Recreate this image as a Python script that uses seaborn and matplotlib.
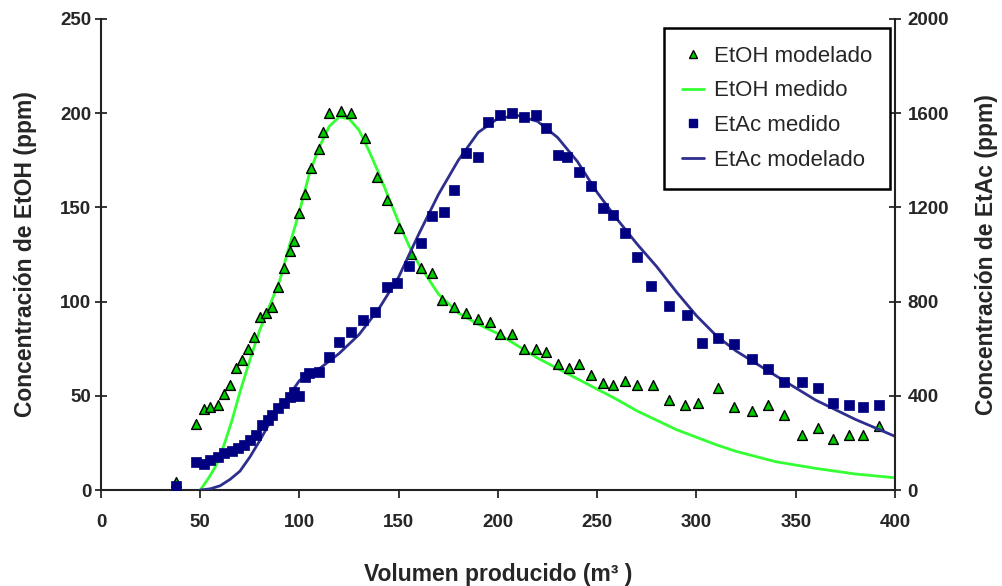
import matplotlib
matplotlib.use("Agg")
import matplotlib.pyplot as plt
import seaborn as sns
import pandas as pd
from matplotlib.lines import Line2D

# ---- data ----
etoh_pts_x = [38, 48, 52, 55, 59, 62, 65, 68, 71, 74, 77, 80, 83, 86, 89, 92, 95, 97, 100, 103,
              106, 110, 112, 115, 121, 126, 133, 139, 144, 150, 156, 161, 167, 172, 178, 184, 190,
              196, 201, 207, 213, 219, 224, 230, 236, 241, 247, 253, 258, 264, 270, 278, 286, 294,
              301, 311, 319, 328, 336, 344, 353, 361, 369, 377, 384, 392]
etoh_pts_y = [4, 35, 43, 44, 45, 51, 56, 65, 69, 75, 81, 92, 94, 97, 108, 118, 127, 132, 147, 157,
              171, 181, 190, 200, 201, 200, 187, 166, 154, 139, 125, 118, 115, 101, 97, 94, 91,
              89, 83, 83, 75, 75, 73, 67, 65, 67, 61, 57, 56, 58, 56, 56, 48, 45,
              46, 54, 44, 42, 45, 40, 29, 33, 27, 29, 29, 34]

etoh_line_x = [50, 54, 58, 62, 66, 70, 75, 80, 85, 90, 95, 100, 105, 110, 115, 120, 125, 130, 135,
               140, 145, 150, 155, 160, 170, 180, 190, 200, 220, 240, 260, 270, 280, 290, 300, 310,
               320, 340, 360, 380, 400]
etoh_line_y = [0, 6, 13, 24, 37, 52, 69, 85, 98, 111, 130, 148, 168, 182, 193, 198, 197, 191, 180,
               168, 155, 142, 130, 120, 104, 94, 88, 83, 70, 59, 48, 42, 37, 32, 28, 24,
               20.5, 15, 11.5, 8.5, 6.5]

etac_pts_x = [38, 48, 52, 55, 59, 62, 66, 69, 72, 75, 78, 81, 84, 86, 89, 92, 95, 97, 100, 103,
              105, 110, 115, 120, 126, 132, 138, 144, 149, 155, 161, 167, 173, 178, 184, 190, 195,
              201, 207, 213, 219, 224, 230, 235, 241, 247, 253, 258, 264, 270, 277, 286, 295, 303,
              311, 319, 328, 336, 344, 353, 361, 369, 377, 384, 392]
etac_pts_y = [15, 120, 110, 127, 141, 156, 167, 177, 191, 212, 234, 276, 297, 318, 347, 368, 396,
              417, 400, 480, 495, 502, 566, 630, 672, 722, 757, 863, 880, 950, 1048, 1163, 1180,
              1274, 1433, 1412, 1564, 1592, 1599, 1582, 1592, 1538, 1422, 1412, 1352, 1289, 1198,
              1168, 1093, 990, 866, 780, 743, 624, 644, 620, 555, 512, 460, 460, 432, 368, 361,
              351, 361]

etac_line_x = [50, 55, 60, 65, 70, 75, 80, 85, 90, 95, 100, 110, 120, 130, 140, 150, 160, 170, 180,
               190, 200, 210, 220, 230, 240, 250, 260, 270, 280, 290, 300, 310, 320, 340, 360, 380,
               400]
etac_line_y = [0, 5, 18, 45, 80, 140, 210, 285, 345, 405, 465, 515, 580, 660, 770, 905, 1085, 1255,
               1400, 1518, 1578, 1590, 1565, 1497, 1395, 1263, 1150, 1045, 948, 840, 740, 655, 590,
               485, 382, 300, 228]

x_ticks = [0, 50, 100, 150, 200, 250, 300, 350, 400]
y_left_ticks = [0, 50, 100, 150, 200, 250]
y_right_ticks = [0, 400, 800, 1200, 1600, 2000]

labels = ["EtOH modelado", "EtOH medido", "EtAc medido", "EtAc modelado"]

# ---- style ----
sns.set_style("ticks")
plt.rcParams["font.family"] = ["Liberation Sans", "DejaVu Sans"]

GREEN_FILL = "#00cc00"
GREEN_LINE = "#33ff33"
NAVY = "#000080"
BLUE_LINE = "#2e2e8f"

fig = plt.figure(figsize=(10.03, 5.86), dpi=100)
ax = fig.add_axes([0.1007, 0.1638, 0.7916, 0.8038])
ax2 = ax.twinx()

df_etoh_pts = pd.DataFrame({"x": etoh_pts_x, "y": etoh_pts_y})
df_etoh_line = pd.DataFrame({"x": etoh_line_x, "y": etoh_line_y})
df_etac_pts = pd.DataFrame({"x": etac_pts_x, "y": etac_pts_y})
df_etac_line = pd.DataFrame({"x": etac_line_x, "y": etac_line_y})

sns.lineplot(data=df_etoh_line, x="x", y="y", ax=ax, color=GREEN_LINE, linewidth=2.0,
             sort=True, estimator=None, zorder=2)
sns.scatterplot(data=df_etoh_pts, x="x", y="y", ax=ax, marker="^", s=50, color=GREEN_FILL,
                edgecolor="black", linewidth=1.0, zorder=3)

sns.lineplot(data=df_etac_line, x="x", y="y", ax=ax2, color=BLUE_LINE, linewidth=2.0,
             sort=True, estimator=None, zorder=2)
sns.scatterplot(data=df_etac_pts, x="x", y="y", ax=ax2, marker="s", s=50, color=NAVY,
                edgecolor=NAVY, linewidth=0.5, zorder=3)

ax.set_xlim(0, 400)
ax.set_ylim(0, 250)
ax2.set_ylim(0, 2000)
ax.set_xticks(x_ticks)
ax.set_yticks(y_left_ticks)
ax2.set_yticks(y_right_ticks)

for a in (ax, ax2):
    a.spines["top"].set_visible(False)
    for s in a.spines.values():
        s.set_linewidth(1.5)
        s.set_color("#222222")
ax.spines["right"].set_visible(False)
ax2.spines["left"].set_visible(False)
ax2.spines["bottom"].set_visible(False)

TICK_FS = 13.5
ax.tick_params(axis="x", direction="out", length=6, width=1.3, pad=11, labelsize=TICK_FS)
ax.tick_params(axis="y", direction="inout", length=8, width=1.3, pad=3, labelsize=TICK_FS)
ax2.tick_params(axis="y", direction="inout", length=8, width=1.3, pad=5, labelsize=TICK_FS)
for lab in ax.get_xticklabels() + ax.get_yticklabels() + ax2.get_yticklabels():
    lab.set_fontweight("bold")

LAB_FS = 16.5
ax.set_xlabel("Volumen producido (m\u00b3 )", fontsize=LAB_FS, fontweight="bold", va="center")
ax.xaxis.set_label_coords(0.5, -0.18)
ax.set_ylabel("Concentración de EtOH (ppm)", fontsize=LAB_FS, fontweight="bold", va="center")
ax.yaxis.set_label_coords(-0.095, 0.5)
ax2.set_ylabel("Concentración de EtAc (ppm)", fontsize=LAB_FS, fontweight="bold", va="center")
ax2.yaxis.set_label_coords(1.115, 0.5)

handles = [
    Line2D([], [], linestyle="none", marker="^", markersize=6, markerfacecolor=GREEN_FILL,
           markeredgecolor="black"),
    Line2D([], [], color=GREEN_LINE, linewidth=2),
    Line2D([], [], linestyle="none", marker="s", markersize=6, markerfacecolor=NAVY,
           markeredgecolor=NAVY),
    Line2D([], [], color=BLUE_LINE, linewidth=2),
]
leg = ax2.legend(handles, labels, loc="upper right", bbox_to_anchor=(0.9937, 0.981),
                 frameon=True, fancybox=False, framealpha=1, edgecolor="black",
                 fontsize=16, handlelength=1.0, labelspacing=0.62, borderpad=0.8,
                 handletextpad=0.45, borderaxespad=0.0)
leg.get_frame().set_linewidth(1.8)

fig.savefig("out.png", dpi=100)
